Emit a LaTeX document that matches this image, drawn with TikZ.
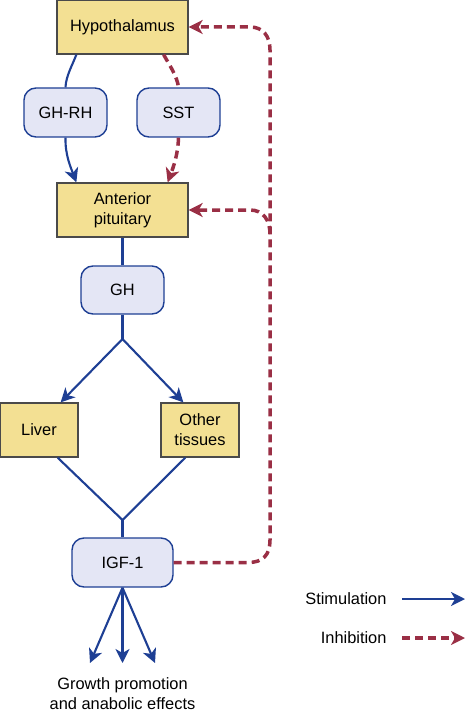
\documentclass[tikz,border=0pt]{standalone}
\usepackage{fontspec}
\setmainfont{Liberation Sans}
\usetikzlibrary{arrows.meta}
\definecolor{boxyellow}{HTML}{F3E093}
\definecolor{boxblue}{HTML}{E4E6F5}
\definecolor{stimblue}{HTML}{1E3F94}
\definecolor{inhred}{HTML}{9A2F45}
\definecolor{edgegray}{HTML}{4A4A4A}
\begin{document}
\begin{tikzpicture}[x=1pt,y=-1pt,
  font=\fontsize{16.4}{20}\selectfont,
  organ/.style={draw=edgegray, fill=boxyellow, line width=1.3pt, minimum width=131pt, minimum height=54pt, align=center, inner sep=0pt},
  tissue/.style={organ, minimum width=78pt},
  hormone/.style={draw=stimblue, fill=boxblue, line width=1.4pt, rounded corners=12pt, minimum width=83pt, minimum height=49pt, align=center, inner sep=0pt},
  stim/.style={draw=stimblue, line width=2.1pt},
  stimarrow/.style={stim, -{Stealth[length=14pt,width=14pt,inset=4pt]}},
  inh/.style={draw=inhred, line width=3.5pt, dash pattern=on 8pt off 5pt},
  inharrow/.style={inh, -{Stealth[length=14pt,width=14pt,inset=4pt]}},
]
\useasboundingbox (0,0) rectangle (466,714);

% nodes
\node[organ] (hyp) at (122.5,27) {Hypothalamus};
\node[hormone] (ghrh) at (65.5,112.5) {GH-RH};
\node[hormone] (sst) at (178.5,112.5) {SST};
\node[organ] (ant) at (122.5,210) {Anterior\\pituitary};
\node[hormone, minimum height=48pt] (gh) at (122.5,290) {GH};
\node[tissue] (liver) at (39,430) {Liver};
\node[tissue] (other) at (200,430) {Other\\tissues};
\node[hormone, minimum width=101pt] (igf) at (122.5,562.5) {IGF-1};
\node[align=center] (growth) at (122.5,694) {Growth promotion\\and anabolic effects};
\node[anchor=east] (stimlab) at (390,599) {Stimulation};
\node[anchor=east] (inhlab) at (390,638) {Inhibition};

% coordinates
\coordinate (br) at (122.5,339);
\coordinate (jn) at (122.5,520);
\coordinate (g1) at (90,663);
\coordinate (g2) at (122.5,663);
\coordinate (g3) at (155,663);
\coordinate (ls1) at (402,599);
\coordinate (le1) at (465,599);
\coordinate (ls2) at (402,638);
\coordinate (le2) at (465,638);

% stimulation connectors
\draw[stim] ([xshift=20pt]hyp.south west) .. controls (72,66) and (66,76) .. (ghrh.north);
\draw[stimarrow] (ghrh.south) .. controls (65,155) and (71,168) .. ([xshift=20pt]ant.north west);
\draw[stim] (ant.south) -- (gh.north);
\draw[stim] (gh.south) -- (br);
\draw[stimarrow] (br) -- ([xshift=-18pt]liver.north east);
\draw[stimarrow] (br) -- ([xshift=23pt]other.north west);
\draw[stim] ([xshift=-21pt]liver.south east) -- (jn) -- ([xshift=25pt]other.south west);
\draw[stim] (jn) -- (igf.north);
\draw[stimarrow] (igf.south) -- (g1);
\draw[stimarrow] (igf.south) -- (g2);
\draw[stimarrow] (igf.south) -- (g3);

% inhibition connectors
\draw[inh] ([xshift=-25pt]hyp.south east) .. controls (170,66) and (177,76) .. (sst.north);
\draw[inharrow] (sst.south) .. controls (178,155) and (173,168) .. ([xshift=-21pt]ant.north east);
\draw[inharrow] (igf.east) -- (248,562.5) .. controls (263,562.5) and (270,555) .. (270,540)
  -- (270,50) .. controls (270,36) and (263,27) .. (250,27) -- (hyp.east);
\draw[inharrow] (270,234) .. controls (270,220) and (263,210) .. (250,210) -- (ant.east);

% legend
\draw[stimarrow] (ls1) -- (le1);
\draw[inharrow] (ls2) -- (le2);
\end{tikzpicture}
\end{document}
